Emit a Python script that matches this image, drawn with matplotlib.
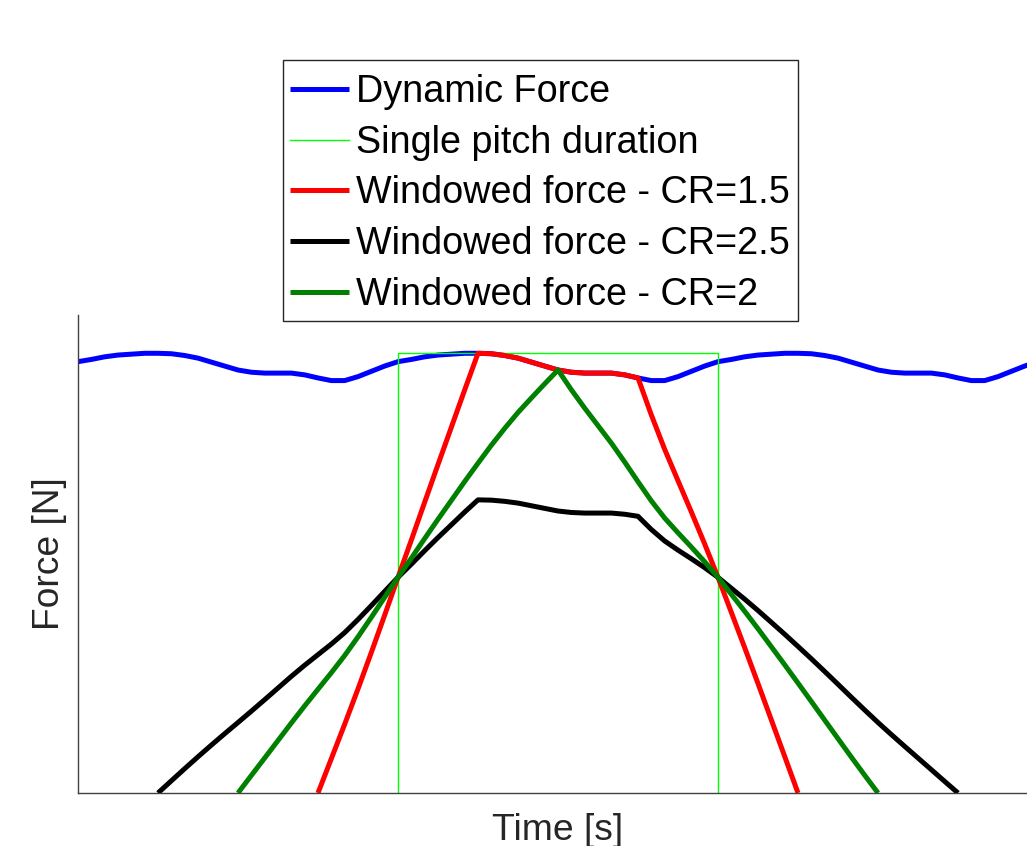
import matplotlib
matplotlib.use('Agg')
import matplotlib.pyplot as plt
import matplotlib.patches as patches
import numpy as np

plt.rcParams['font.family'] = ['Liberation Sans', 'DejaVu Sans']

# Dynamic mesh force over one tooth pitch, 24 samples per pitch (normalised, peak = 1)
PITCH_FORCE = [0.980, 0.985, 0.991, 0.995, 0.997, 0.999, 0.999, 0.998,
               0.994, 0.988, 0.979, 0.970, 0.961, 0.956, 0.954, 0.954,
               0.954, 0.950, 0.943, 0.937, 0.937, 0.946, 0.958, 0.970]
N_PITCHES = 3

# Load-sharing windows (time in pitches, share of the dynamic force)
WIN_15_T = [0.75, 1.25, 1.75, 2.25]
WIN_15_W = [0.0, 1.0, 1.0, 0.0]
WIN_25_T = [0.25, 1.25, 1.75, 2.75]
WIN_25_W = [0.0, 2 / 3, 2 / 3, 0.0]
WIN_20_T = [0.5, 1.5, 2.5]
WIN_20_W = [0.0, 1.0, 0.0]

# Single pitch marker
PITCH_T = [1.0, 1.0, 2.0, 2.0]
PITCH_F = [0.0, 1.0, 1.0, 0.0]

spp = len(PITCH_FORCE)
force = np.array(PITCH_FORCE * N_PITCHES + [PITCH_FORCE[0]])
t = np.arange(len(force)) / spp


def windowed(win_t, win_w):
    mask = (t >= win_t[0] - 1e-9) & (t <= win_t[-1] + 1e-9)
    w = np.interp(t[mask], win_t, win_w)
    return t[mask], force[mask] * w


W, H = 1027, 846
fig = plt.figure(figsize=(W / 100, H / 100), dpi=100)
ax = fig.add_axes([78 / W, 53 / H, 960 / W, 478 / H])

lw = 3.6
kw = dict(solid_capstyle='butt', solid_joinstyle='round')
ax.plot(t, force, color=(0, 0, 1), lw=lw, label='Dynamic Force', **kw)
ax.plot(PITCH_T, PITCH_F, color=(0, 1, 0), lw=1.0, label='Single pitch duration')
x, y = windowed(WIN_15_T, WIN_15_W)
ax.plot(x, y, color=(1, 0, 0), lw=lw, label='Windowed force - CR=1.5', **kw)
x, y = windowed(WIN_25_T, WIN_25_W)
ax.plot(x, y, color='black', lw=lw, label='Windowed force - CR=2.5', **kw)
x, y = windowed(WIN_20_T, WIN_20_W)
ax.plot(x, y, color=(0, 0.5, 0), lw=lw, label='Windowed force - CR=2', **kw)

ax.set_xlim(0, 3)
ax.set_ylim(0, 1.086)
ax.set_xticks([])
ax.set_yticks([])
for side in ('top', 'right'):
    ax.spines[side].set_visible(False)
for side in ('left', 'bottom'):
    ax.spines[side].set_color('#404040')
    ax.spines[side].set_linewidth(1.0)

ax.set_xlabel('Time [s]', fontsize=26.8, color='#262626', labelpad=14.5)
ax.set_ylabel('Force [N]', fontsize=26.8, color='#262626', labelpad=8)

# Legend box drawn separately so the padding can differ per side
fig.add_artist(patches.Rectangle((283 / W, 1 - 321 / H), 515 / W, 261 / H,
                                 transform=fig.transFigure, facecolor='white',
                                 edgecolor='#262626', linewidth=1.0, zorder=4))
fig.legend(loc='upper left', bbox_to_anchor=(290 / W, 1 - 74 / H),
           fontsize=27.2, frameon=False, borderpad=0, borderaxespad=0,
           handlelength=1.56, handletextpad=0.185, labelspacing=0.39)

fig.savefig('out.png', dpi=100)
